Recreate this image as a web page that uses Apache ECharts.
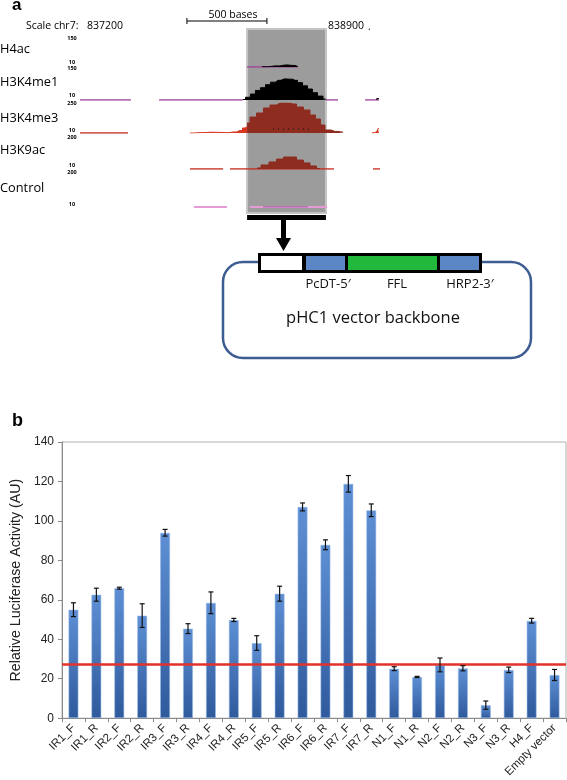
<!DOCTYPE html>
<html><head><meta charset="utf-8">
<script src="https://cdn.jsdelivr.net/npm/echarts@6/dist/echarts.min.js"></script>
<style>html,body{margin:0;padding:0;background:#fff}#c{width:567px;height:780px}</style>
</head><body><div id="c"></div>
<script>
// ---------- Panel b data ----------
const categories = ['IR1_F','IR1_R','IR2_F','IR2_R','IR3_F','IR3_R','IR4_F','IR4_R','IR5_F','IR5_R','IR6_F','IR6_R','IR7_F','IR7_R','N1_F','N1_R','N2_F','N2_R','N3_F','N3_R','H4_F','Empty vector'];
const activity = [55.0,62.6,65.9,52.0,94.0,45.4,58.5,49.8,38.1,63.1,107.1,87.9,118.8,105.4,25.1,20.9,27.0,25.3,6.6,24.5,49.4,21.9];
const errors   = [3.5,3.3,0.5,6.0,1.7,2.5,5.5,0.8,3.7,3.8,2.0,2.5,4.2,3.2,1.0,0.3,3.5,1.3,2.1,1.4,1.2,2.8];
const threshold = 27.3;
const yTicks = {min:0, max:140, interval:20};

// ---------- Panel a data (genomic positions on chr7) ----------
const genomeRange = [836700, 838650];
const highlightRegion = [837788, 838281];
const scaleBar = [837412, 837912]; // 500 bases
const h4acBase = [[837788, 838106]];
const h4acPeak = [[837881,11],[837962,15],[838025,19],[838069,17],[838106,12]];
const h3k4me1Base = [[836744,837062],[837238,837762],[838281,838356],[838525,838612]];
const h3k4me1Peak = [[837762,12],[837794,22],[837825,36],[837856,52],[837888,64],[837919,77],[837950,88],[837981,96],[838019,102],[838056,101],[838088,96],[838119,86],[838150,72],[838181,58],[838212,42],[838244,27],[838281,14]];
const h3k4me1Tail = [[838596,16],[838612,16]];
const h3k4me3Base = [[836744,837044]];
const h3k4me3Low = [[837431,10],[837494,13],[837556,16],[837600,15],[837650,13],[837700,18],[837744,30],[837775,50],[837788,60]];
const h3k4me3Peak = [[837788,90],[837825,138],[837869,170],[837912,210],[837950,234],[837994,250],[838038,250],[838075,242],[838119,218],[838162,194],[838200,154],[838231,122],[838262,74],[838288,34],[838338,22],[838388,16]];
const h3k4me3Spike = [[838569,12],[838600,22],[838612,45]];
const h3k4me3Dots = [[837950,42],[838200,42]];
const h3k9acBase = [[837431,837638],[837681,838331],[838575,838619]];
const h3k9acPeak = [[837850,16],[837900,34],[837950,52],[837994,69],[838038,81],[838075,81],[838119,63],[838162,46],[838200,28],[838244,13]];
const controlBase = [[837456,837662],[837806,838288]];
const controlMid = [[837888,838169]];
const trackNames = ['H4ac','H3K4me1','H3K4me3','H3K9ac','Control'];
const trackMax = [150,150,250,200,200];
const trackMin = 10;

const chart = echarts.init(document.getElementById('c'));
const L = 73, W = 312;
const trackTops = [36,68,103,137,175];
const trackH = [31,32,30,32,32];

const grids = [
  {left:L, width:W, top:29, height:184},            // 0 highlight frame
];
trackTops.forEach((t,i)=>grids.push({left:L, width:W, top:t, height:trackH[i]})); // 1..5
grids.push({left:L, width:W, top:215, height:5});   // 6 black bar
grids.push({left:L, width:W, top:20, height:2});    // 7 scale bar
grids.push({left:62, right:1, top:442, bottom:61, show:true, borderColor:'#b0b0b0', borderWidth:1}); // 8

const xAxes = [], yAxes = [];
for (let i=0;i<8;i++){
  xAxes.push({type:'value', gridIndex:i, min:genomeRange[0], max:genomeRange[1], show:false});
  let ymin=0,ymax=1;
  if (i>=1 && i<=5){ ymin=trackMin; ymax=trackMax[i-1]; }
  yAxes.push({type:'value', gridIndex:i, min:ymin, max:ymax, show:false});
}
xAxes.push({type:'category', gridIndex:8, data:categories,
  axisLine:{lineStyle:{color:'#8a8a8a'}}, axisTick:{show:true, length:4, lineStyle:{color:'#8a8a8a'}},
  axisLabel:{rotate:45, fontSize:11.5, color:'#222', fontFamily:'Liberation Sans, Arial', margin:8, interval:0}});
yAxes.push({type:'value', gridIndex:8, min:yTicks.min, max:yTicks.max, interval:yTicks.interval,
  name:'Relative Luciferase Activity (AU)', nameLocation:'middle', nameGap:36,
  nameTextStyle:{fontSize:14.2, color:'#222', fontFamily:'Liberation Sans, Arial'},
  axisLine:{show:true, lineStyle:{color:'#8a8a8a'}}, axisTick:{show:true, length:4, lineStyle:{color:'#8a8a8a'}},
  splitLine:{show:false},
  axisLabel:{fontSize:12, color:'#222', fontFamily:'Liberation Sans, Arial', margin:8}});

const series = [];
// highlight box
series.push({type:'line', xAxisIndex:0, yAxisIndex:0, data:[], silent:true,
  markArea:{silent:true, itemStyle:{color:'#9c9c9c', borderColor:'#c4c4c4', borderWidth:2},
    data:[[{xAxis:highlightRegion[0]},{xAxis:highlightRegion[1]}]]}});
// black bar under the box
series.push({type:'line', xAxisIndex:6, yAxisIndex:6, data:[], silent:true,
  markArea:{silent:true, itemStyle:{color:'#000'}, data:[[{xAxis:highlightRegion[0]},{xAxis:highlightRegion[1]}]]}});
// scale bar
series.push({type:'line', xAxisIndex:7, yAxisIndex:7, data:scaleBar.map(p=>[p,0.5]), symbol:'rect', symbolSize:[1,6], showSymbol:true,
  lineStyle:{color:'#000', width:1}, itemStyle:{color:'#000'}, silent:true});

function baseSeg(track, segs, color, width){
  segs.forEach(s=>series.push({type:'line', xAxisIndex:track, yAxisIndex:track, data:[[s[0],trackMin],[s[1],trackMin]],
    symbol:'none', lineStyle:{color:color, width:width||1.5}, silent:true, z:3}));
}
function area(track, data, fill, line){
  series.push({type:'line', xAxisIndex:track, yAxisIndex:track, data:data, symbol:'none', step:'middle',
    lineStyle:{color:line||fill, width:1}, areaStyle:{color:fill, opacity:1, origin:'start'}, silent:true, z:4});
}
const MAG = '#a2409a', RED = '#c42c1c', DRED = '#8e2c20';
baseSeg(1, h4acBase, MAG);
area(1, h4acPeak, '#000');
baseSeg(2, h3k4me1Base, MAG);
area(2, h3k4me1Peak, '#000');
area(2, h3k4me1Tail, '#000');
baseSeg(3, h3k4me3Base, RED);
area(3, h3k4me3Low, '#d8361f');
area(3, h3k4me3Peak, DRED);
area(3, h3k4me3Spike, '#d8361f');
series.push({type:'line', xAxisIndex:3, yAxisIndex:3, data:h3k4me3Dots, symbol:'none', lineStyle:{color:'#111', width:1, type:[1,4]}, silent:true, z:5});
baseSeg(4, h3k9acBase, RED);
area(4, h3k9acPeak, DRED);
baseSeg(5, controlBase, '#e69ad6', 1.8);
baseSeg(5, controlMid, '#8a4e8e', 1.2);

// bars
series.push({type:'bar', xAxisIndex:8, yAxisIndex:8, data:activity, barWidth:10,
  itemStyle:{color:new echarts.graphic.LinearGradient(0,0,0,1,[{offset:0,color:'#5e8fd4'},{offset:1,color:'#2f5a9c'}]),
    borderColor:'rgba(150,185,230,0.7)', borderWidth:0.8},
  markLine:{silent:true, symbol:'none', label:{show:false}, lineStyle:{color:'#e2322b', width:2.5, type:'solid'},
    data:[{yAxis:threshold}]}, z:2});
// error bars
series.push({type:'custom', xAxisIndex:8, yAxisIndex:8,
  data:activity.map((v,i)=>[i, v-errors[i], v+errors[i]]),
  renderItem:function(params, api){
    const hi = api.coord([api.value(0), api.value(2)]);
    const lo = api.coord([api.value(0), api.value(1)]);
    const w = 2.5, st = {stroke:'#111', lineWidth:1.2};
    return {type:'group', children:[
      {type:'line', shape:{x1:hi[0],y1:hi[1],x2:lo[0],y2:lo[1]}, style:st},
      {type:'line', shape:{x1:hi[0]-w,y1:hi[1],x2:hi[0]+w,y2:hi[1]}, style:st},
      {type:'line', shape:{x1:lo[0]-w,y1:lo[1],x2:lo[0]+w,y2:lo[1]}, style:st}]};
  }, z:5});

const SF = 'Open Sans, Noto Sans, sans-serif';
const graphics = [
  {type:'text', left:12, top:-3, style:{text:'a', font:'bold 17px Liberation Sans, Arial', fill:'#000'}},
  {type:'text', left:12, top:412, style:{text:'b', font:'bold 18px Liberation Sans, Arial', fill:'#000'}},
  {type:'text', x:26, y:26, style:{text:'Scale chr7:', font:'10.5px '+SF, fill:'#000', textVerticalAlign:'middle'}},
  {type:'text', x:87, y:26, style:{text:'837200', font:'10.5px '+SF, fill:'#000', textVerticalAlign:'middle'}},
  {type:'text', x:328, y:26, style:{text:'838900', font:'10.5px '+SF, fill:'#000', textVerticalAlign:'middle'}},
  {type:'text', x:368, y:27, style:{text:'.', font:'10px '+SF, fill:'#000', textVerticalAlign:'middle'}},
  {type:'text', x:233, y:15, style:{text:'500 bases', font:'10.5px '+SF, fill:'#000', textAlign:'center', textVerticalAlign:'middle'}},
];
const labelY = [49,82,118,150,188];
trackNames.forEach((n,i)=>graphics.push({type:'text', x:0, y:labelY[i], style:{text:n, font:'12.8px '+SF, fill:'#000', textVerticalAlign:'middle'}}));
const smallLab = [['150',38],['10',62],['150',68],['10',95],['250',103],['10',130],['200',137],['10',165],['200',172],['10',204]];
smallLab.forEach(s=>graphics.push({type:'text', x:72, y:s[1], style:{text:s[0], font:'bold 5.5px '+SF, fill:'#000', textAlign:'center', textVerticalAlign:'middle'}}));
// vector schematic
graphics.push(
  {type:'rect', shape:{x:223, y:262, width:308, height:96, r:20}, style:{fill:'none', stroke:'#3d5c92', lineWidth:2.5}},
  {type:'rect', shape:{x:281, y:220, width:5, height:21}, style:{fill:'#000'}},
  {type:'polygon', shape:{points:[[276,238],[291,238],[283.5,251]]}, style:{fill:'#000'}},
  {type:'rect', shape:{x:258, y:253, width:224, height:20}, style:{fill:'#000'}},
  {type:'rect', shape:{x:261, y:256, width:41, height:14}, style:{fill:'#fff'}},
  {type:'rect', shape:{x:306, y:256, width:39, height:14}, style:{fill:'#5b87c6'}},
  {type:'rect', shape:{x:348, y:256, width:89, height:14}, style:{fill:'#22b83c'}},
  {type:'rect', shape:{x:440, y:256, width:39, height:14}, style:{fill:'#5b87c6'}},
  {type:'text', x:328, y:284, style:{text:'PcDT-5\u2032', font:'13px '+SF, fill:'#111', textAlign:'center', textVerticalAlign:'middle'}},
  {type:'text', x:397, y:284, style:{text:'FFL', font:'13px '+SF, fill:'#111', textAlign:'center', textVerticalAlign:'middle'}},
  {type:'text', x:470, y:284, style:{text:'HRP2-3\u2032', font:'13px '+SF, fill:'#111', textAlign:'center', textVerticalAlign:'middle'}},
  {type:'text', x:373, y:318, style:{text:'pHC1 vector backbone', font:'16.5px '+SF, fill:'#111', textAlign:'center', textVerticalAlign:'middle'}}
);

chart.setOption({animation:false, backgroundColor:'#fff', grid:grids, xAxis:xAxes, yAxis:yAxes, series:series, graphic:graphics});
</script></body></html>
